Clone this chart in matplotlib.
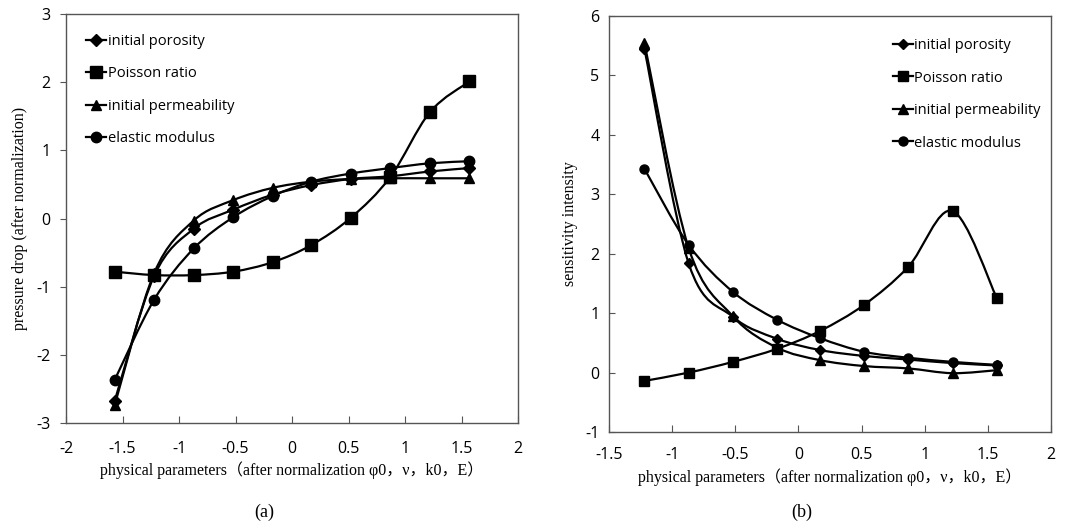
import numpy as np
import matplotlib
matplotlib.use("Agg")
import matplotlib.pyplot as plt
from matplotlib.path import Path
from matplotlib.patches import PathPatch

# normalized physical parameters
x_a = [-1.57, -1.22, -0.87, -0.52, -0.17, 0.17, 0.52, 0.87, 1.22, 1.57]
x_b = [-1.22, -0.87, -0.52, -0.17, 0.17, 0.52, 0.87, 1.22, 1.57]

labels = ["initial porosity", "Poisson ratio", "initial permeability", "elastic modulus"]
markers = ["D", "s", "^", "o"]

# (a) pressure drop
porosity_a = [-2.68, -0.84, -0.15, 0.13, 0.35, 0.49, 0.58, 0.62, 0.69, 0.74]
poisson_a = [-0.78, -0.83, -0.83, -0.78, -0.64, -0.39, 0.01, 0.61, 1.56, 2.01]
permeab_a = [-2.74, -0.80, -0.03, 0.27, 0.45, 0.54, 0.58, 0.59, 0.59, 0.59]
elastic_a = [-2.37, -1.19, -0.44, 0.02, 0.33, 0.54, 0.66, 0.74, 0.81, 0.84]

# (b) sensitivity intensity
porosity_b = [5.45, 1.84, 0.94, 0.57, 0.38, 0.28, 0.22, 0.16, 0.12]
poisson_b = [-0.14, 0.00, 0.18, 0.40, 0.70, 1.14, 1.78, 2.72, 1.26]
permeab_b = [5.55, 2.10, 0.95, 0.42, 0.21, 0.11, 0.07, -0.01, 0.04]
elastic_b = [3.43, 2.15, 1.36, 0.89, 0.58, 0.35, 0.25, 0.18, 0.13]

sans = ["Open Sans", "DejaVu Sans"]
serif = ["Liberation Serif", "Noto Sans CJK SC"]
xlab = "physical parameters（after normalization φ0，ν，k0，E）"


def smooth_line(ax, xs, ys):
    # excel style smoothed line: cubic bezier with catmull-rom control points
    pts = np.column_stack([np.asarray(xs, float), np.asarray(ys, float)])
    verts = [pts[0]]
    codes = [Path.MOVETO]
    n = len(pts)
    for i in range(n - 1):
        p0 = pts[i - 1] if i > 0 else pts[i]
        p1 = pts[i]
        p2 = pts[i + 1]
        p3 = pts[i + 2] if i + 2 < n else pts[i + 1]
        verts += [p1 + (p2 - p0) / 6.0, p2 - (p3 - p1) / 6.0, p2]
        codes += [Path.CURVE4] * 3
    ax.add_patch(PathPatch(Path(verts, codes), fill=False, lw=1.6,
                           edgecolor="black", zorder=2))


def draw(ax, xs, series, msizes):
    for ys, m, lab, ms in zip(series, markers, labels, msizes):
        smooth_line(ax, xs, ys)
        ax.plot(xs, ys, ls="none", marker=m, ms=ms, color="black", zorder=3)
        ax.plot([], [], "-", lw=1.6, marker=m, ms=ms, color="black", label=lab)


def style(ax, ydir, xpad):
    for s in ax.spines.values():
        s.set_color("#555555")
        s.set_linewidth(1.0)
    ax.tick_params(axis="x", direction="in", length=5, color="#555555", pad=xpad)
    ax.tick_params(axis="y", direction=ydir, length=4, color="#555555", pad=7)
    for t in ax.get_xticklabels() + ax.get_yticklabels():
        t.set_family(sans)
        t.set_fontsize(11.5)


fig = plt.figure(figsize=(10.67, 5.25), dpi=100)

ax1 = fig.add_axes([0.0619, 0.1943, 0.4236, 0.779])
draw(ax1, x_a, [porosity_a, poisson_a, permeab_a, elastic_a], [6, 8, 7, 7.5])
ax1.set_xlim(-2, 2)
ax1.set_ylim(-3, 3)
ax1.set_xticks(np.arange(-2, 2.01, 0.5))
ax1.set_xticklabels(["-2", "-1.5", "-1", "-0.5", "0", "0.5", "1", "1.5", "2"])
ax1.set_yticks(range(-3, 4))
ax1.set_yticklabels([str(v) for v in range(-3, 4)])
style(ax1, "out", 13)
ax1.set_xlabel(xlab, family=serif, fontsize=11.5)
ax1.xaxis.set_label_coords(0.5, -(470 - 423) / 409, transform=ax1.transAxes)
ax1.xaxis.label.set_va("center")
ax1.set_ylabel("pressure drop (after normalization)", family=serif, fontsize=11.5)
ax1.yaxis.set_label_coords(-(66 - 20) / 452, 0.5)
ax1.yaxis.label.set_va("center")
ax1.legend(loc="upper left", frameon=False, handlelength=1.4, handletextpad=0.1,
           labelspacing=1.2, borderaxespad=0.4, bbox_to_anchor=(0.018, 0.98),
           prop={"family": sans, "size": 10.5})

ax2 = fig.add_axes([0.5708, 0.1771, 0.4142, 0.7924])
draw(ax2, x_b, [porosity_b, poisson_b, permeab_b, elastic_b], [5, 7.5, 6.5, 6.5])
ax2.set_xlim(-1.5, 2)
ax2.set_ylim(-1, 6)
ax2.set_xticks(np.arange(-1.5, 2.01, 0.5))
ax2.set_xticklabels(["-1.5", "-1", "-0.5", "0", "0.5", "1", "1.5", "2"])
ax2.set_yticks(range(-1, 7))
ax2.set_yticklabels([str(v) for v in range(-1, 7)])
style(ax2, "in", 11)
ax2.set_xlabel(xlab, family=serif, fontsize=11.5)
ax2.xaxis.set_label_coords(0.5, -(477 - 432) / 416, transform=ax2.transAxes)
ax2.xaxis.label.set_va("center")
ax2.set_ylabel("sensitivity intensity", family=serif, fontsize=11.5)
ax2.yaxis.set_label_coords(-(609 - 570) / 442, 0.5)
ax2.yaxis.label.set_va("center")
ax2.legend(loc="upper left", frameon=False, handlelength=1.4, handletextpad=0.1,
           labelspacing=1.2, borderaxespad=0.4, bbox_to_anchor=(0.615, 0.975),
           prop={"family": sans, "size": 10.5})

fig.text(264 / 1067, 1 - 512 / 525, "(a)", family=serif, fontsize=13,
         ha="center", va="center")
fig.text(802 / 1067, 1 - 512 / 525, "(b)", family=serif, fontsize=13,
         ha="center", va="center")

fig.savefig("out.png", dpi=100)
